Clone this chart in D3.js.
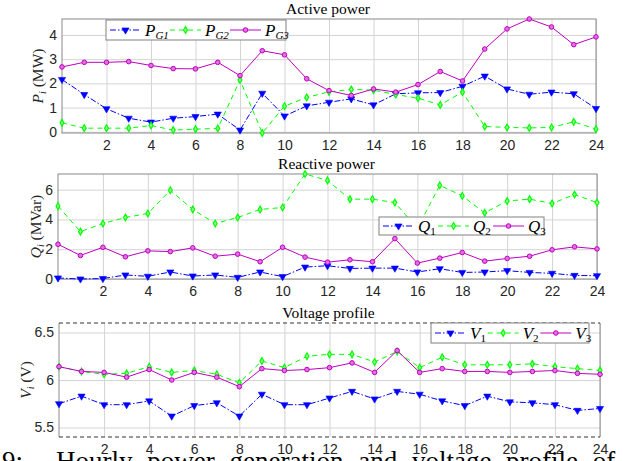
<!DOCTYPE html>
<html lang="en">
	<head>
		<meta charset="utf-8">
		<title>Hourly power and voltage</title>
		<script type="text/javascript" src="https://cdn.jsdelivr.net/npm/d3@7"></script>
		<style type="text/css">
			body { margin: 0; background: #fff; }
		</style>
	</head>
	<body>
		<script type="text/javascript">

			var w = 627;
			var h = 461;
			var serif = "Liberation Serif";
			var sans = "Liberation Sans";

			// hours 0..24
			var hours = d3.range(0, 25);
			var xTicks = [2, 4, 6, 8, 10, 12, 14, 16, 18, 20, 22, 24];

			// active power (MW)
			var PG1 = [2.16, 1.54, 0.95, 0.56, 0.40, 0.56, 0.63, 0.73, 0.07, 1.59, 0.65, 1.07, 1.22, 1.36, 1.11, 1.57, 1.61, 1.62, 1.88, 2.30, 1.77, 1.55, 1.64, 1.57, 0.96];
			var PG2 = [0.37, 0.15, 0.15, 0.15, 0.26, 0.07, 0.11, 0.14, 2.14, -0.05, 1.06, 1.42, 1.65, 1.75, 1.72, 1.54, 1.39, 1.11, 1.64, 0.22, 0.18, 0.16, 0.18, 0.41, 0.11];
			var PG3 = [2.68, 2.87, 2.87, 2.90, 2.74, 2.61, 2.60, 2.87, 2.32, 3.35, 3.18, 2.19, 1.70, 1.50, 1.77, 1.64, 1.95, 2.49, 2.10, 3.42, 4.25, 4.66, 4.33, 3.60, 3.92];

			// reactive power (MVar)
			var Q1 = [0.07, 0.00, 0.03, 0.27, 0.18, 0.47, 0.20, 0.27, 0.11, 0.47, 0.16, 0.80, 0.89, 0.71, 0.73, 0.73, 0.47, 0.69, 0.44, 0.47, 0.56, 0.44, 0.38, 0.24, 0.22];
			var Q2 = [4.89, 3.18, 3.73, 4.13, 4.40, 5.96, 4.67, 3.73, 4.13, 4.67, 4.80, 7.05, 6.62, 5.36, 5.36, 5.13, 3.40, 6.29, 5.58, 4.44, 5.24, 5.36, 5.07, 5.67, 5.13];
			var Q3 = [2.33, 1.58, 2.13, 1.49, 1.89, 1.84, 2.09, 1.53, 1.67, 1.16, 2.13, 1.47, 1.13, 1.29, 1.16, 2.71, 1.07, 1.40, 1.78, 1.20, 1.38, 1.53, 1.96, 2.16, 2.02];

			// voltage (V)
			var V1 = [5.75, 5.83, 5.74, 5.74, 5.78, 5.62, 5.73, 5.76, 5.62, 5.85, 5.74, 5.74, 5.81, 5.88, 5.80, 5.88, 5.85, 5.78, 5.73, 5.83, 5.77, 5.76, 5.74, 5.68, 5.70];
			var V2 = [6.14, 6.09, 6.06, 6.07, 6.14, 6.08, 6.10, 6.06, 5.97, 6.20, 6.13, 6.25, 6.27, 6.27, 6.19, 6.30, 6.13, 6.24, 6.16, 6.16, 6.16, 6.17, 6.14, 6.12, 6.10];
			var V3 = [6.14, 6.09, 6.08, 6.03, 6.11, 6.00, 6.08, 6.03, 5.93, 6.12, 6.10, 6.11, 6.13, 6.18, 6.08, 6.31, 6.08, 6.12, 6.09, 6.09, 6.08, 6.09, 6.10, 6.07, 6.06];

			var blue = "#0000ff", green = "#00ff00", magenta = "#c000c0";

			var styles = [
				{ color: blue, dash: "6,2,1.5,2", symbol: "tri" },
				{ color: green, dash: "5,4", symbol: "dia" },
				{ color: magenta, dash: null, symbol: "circ" }
			];

			var panels = [
				{
					title: "Active power", ylab: ["P", "i", " (MW)"], ylabX: 38,
					left: 62, right: 596, top: 19, bottom: 133,
					series: [PG1, PG2, PG3], yTicks: [0, 1, 2, 3, 4], yDomain: null,
					legend: { x: 106, y: 20, w: 180, h: 20, names: [["P", "G1"], ["P", "G2"], ["P", "G3"]] },
					dashedBox: false
				},
				{
					title: "Reactive power", ylab: ["Q", "i", " (MVar)"], ylabX: 36,
					left: 58, right: 597, top: 174, bottom: 279,
					series: [Q1, Q2, Q3], yTicks: [0, 2, 4, 6], yDomain: null,
					legend: { x: 379, y: 217, w: 165, h: 18, names: [["Q", "1"], ["Q", "2"], ["Q", "3"]] },
					dashedBox: false
				},
				{
					title: "Voltage profile", ylab: ["V", "i", " (V)"], ylabX: 26,
					left: 59, right: 600, top: 323, bottom: 437,
					series: [V1, V2, V3], yTicks: [5.5, 6, 6.5], yDomain: [5.4, 6.6],
					legend: { x: 431, y: 323, w: 158, h: 20, names: [["V", "1"], ["V", "2"], ["V", "3"]] },
					dashedBox: true
				}
			];

			var svg = d3.select("body")
				.append("svg")
				.attr("width", w)
				.attr("height", h);

			function marker(g, kind, color, cx, cy) {
				if (kind === "tri") {
					g.append("path")
						.attr("d", d3.symbol(d3.symbolTriangle, 22)())
						.attr("transform", "translate(" + cx + "," + cy + ") rotate(180)")
						.attr("fill", color)
						.attr("stroke", color)
						.attr("stroke-width", 0.6);
				} else if (kind === "dia") {
					g.append("path")
						.attr("d", d3.symbol(d3.symbolDiamond, 13)())
						.attr("transform", "translate(" + cx + "," + cy + ")")
						.attr("fill", "#90ff90")
						.attr("stroke", color)
						.attr("stroke-width", 1.2);
				} else {
					g.append("circle")
						.attr("cx", cx).attr("cy", cy).attr("r", 2.3)
						.attr("fill", "#e070e0")
						.attr("stroke", color)
						.attr("stroke-width", 1);
				}
			}

			function styleTicks(s) {
				s.attr("font-family", sans).attr("font-size", 14);
				s.select(".domain").remove();
				s.selectAll("text").attr("fill", "#262626");
			}

			panels.forEach(function (p) {
				var x = d3.scaleLinear().domain([0, 24]).range([p.left, p.right]);
				var all = d3.merge(p.series);
				var y = d3.scaleLinear()
					.domain(p.yDomain || d3.extent(all))
					.range([p.bottom, p.top]);

				var g = svg.append("g");

				// grid
				g.append("g")
					.call(d3.axisBottom(x).tickValues(xTicks).tickSize(-(p.bottom - p.top)).tickFormat(""))
					.attr("transform", "translate(0," + p.bottom + ")")
					.call(function (s) {
						s.select(".domain").remove();
						s.selectAll("line").attr("stroke", "#d4d4d4").attr("stroke-width", 1);
					});
				g.append("g")
					.call(d3.axisLeft(y).tickValues(p.yTicks).tickSize(-(p.right - p.left)).tickFormat(""))
					.attr("transform", "translate(" + p.left + ",0)")
					.call(function (s) {
						s.select(".domain").remove();
						s.selectAll("line").attr("stroke", "#d4d4d4").attr("stroke-width", 1);
					});

				// tick labels
				g.append("g")
					.attr("transform", "translate(0," + p.bottom + ")")
					.call(d3.axisBottom(x).tickValues(xTicks).tickSize(0).tickPadding(7))
					.call(styleTicks);
				g.append("g")
					.attr("transform", "translate(" + p.left + ",0)")
					.call(d3.axisLeft(y).tickValues(p.yTicks).tickSize(0).tickPadding(5).tickFormat(d3.format("~g")))
					.call(styleTicks);

				// box
				if (p.dashedBox) {
					g.append("line").attr("x1", p.left).attr("x2", p.left).attr("y1", p.top).attr("y2", p.bottom).attr("stroke", "#8a8a8a");
					g.append("line").attr("x1", p.right).attr("x2", p.right).attr("y1", p.top).attr("y2", p.bottom).attr("stroke", "#8a8a8a");
					[p.top, p.bottom].forEach(function (yy) {
						g.append("line").attr("x1", p.left).attr("x2", p.right).attr("y1", yy).attr("y2", yy)
							.attr("stroke", "#333").attr("stroke-width", 1.2).attr("stroke-dasharray", "4,3");
					});
				} else {
					g.append("rect")
						.attr("x", p.left).attr("y", p.top)
						.attr("width", p.right - p.left).attr("height", p.bottom - p.top)
						.attr("fill", "none").attr("stroke", "#8a8a8a").attr("stroke-width", 1);
				}

				// title
				g.append("text")
					.attr("font-family", serif).attr("font-size", 15.5)
					.attr("text-anchor", "middle").attr("fill", "#000")
					.attr("x", (p.left + p.right) / 2 - 1).attr("y", p.top - 5)
					.text(p.title);

				// y label
				var yl = g.append("text")
					.attr("font-family", serif).attr("font-size", 15.5).attr("fill", "#262626")
					.attr("text-anchor", "middle")
					.attr("transform", "translate(" + p.ylabX + "," + ((p.top + p.bottom) / 2) + ") rotate(-90)")
					.attr("dy", "0.35em");
				yl.append("tspan").attr("font-style", "italic").text(p.ylab[0]);
				yl.append("tspan").attr("font-style", "italic").attr("font-size", 10).attr("dy", "3").text(p.ylab[1]);
				yl.append("tspan").attr("dy", "-3").text(p.ylab[2]);

				// series
				var line = d3.line().x(function (d, i) { return x(hours[i]); }).y(function (d) { return y(d); });
				p.series.forEach(function (data, k) {
					var st = styles[k];
					g.append("path")
						.datum(data)
						.attr("d", line)
						.attr("fill", "none")
						.attr("stroke", st.color)
						.attr("stroke-width", 1)
						.attr("stroke-dasharray", st.dash);
					var mg = g.append("g");
					data.forEach(function (d, i) {
						marker(mg, st.symbol, st.color, x(hours[i]), y(d));
					});
				});

				// legend
				var L = p.legend;
				var lg = g.append("g");
				lg.append("rect")
					.attr("x", L.x).attr("y", L.y).attr("width", L.w).attr("height", L.h)
					.attr("fill", "#fff").attr("stroke", "#808080").attr("stroke-width", 1);
				var step = L.w / 3;
				L.names.forEach(function (nm, k) {
					var st = styles[k];
					var x0 = L.x + 4 + k * step;
					var cy = L.y + L.h / 2;
					lg.append("line")
						.attr("x1", x0).attr("x2", x0 + 31).attr("y1", cy).attr("y2", cy)
						.attr("stroke", st.color).attr("stroke-width", 1)
						.attr("stroke-dasharray", st.dash);
					marker(lg, st.symbol, st.color, x0 + 15.5, cy);
					var t = lg.append("text")
						.attr("font-family", serif).attr("font-size", 17).attr("fill", "#000")
						.attr("x", x0 + 35).attr("y", cy).attr("dy", "0.33em");
					t.append("tspan").attr("font-style", "italic").text(nm[0]);
					t.append("tspan").attr("font-size", 11).attr("dy", "3")
						.attr("font-style", nm[1].length > 1 ? "italic" : "normal").text(nm[1]);
				});
			});

			// caption of the figure, cut by the page edge
			var cap = svg.append("text")
				.attr("font-family", serif).attr("font-size", 27).attr("fill", "#000")
				.attr("y", 470);
			cap.append("tspan").attr("x", 2).text("9:");
			cap.append("tspan").attr("x", 56).attr("word-spacing", 8)
				.text("Hourly power generation and voltage profile of the");

		</script>
	</body>
</html>
